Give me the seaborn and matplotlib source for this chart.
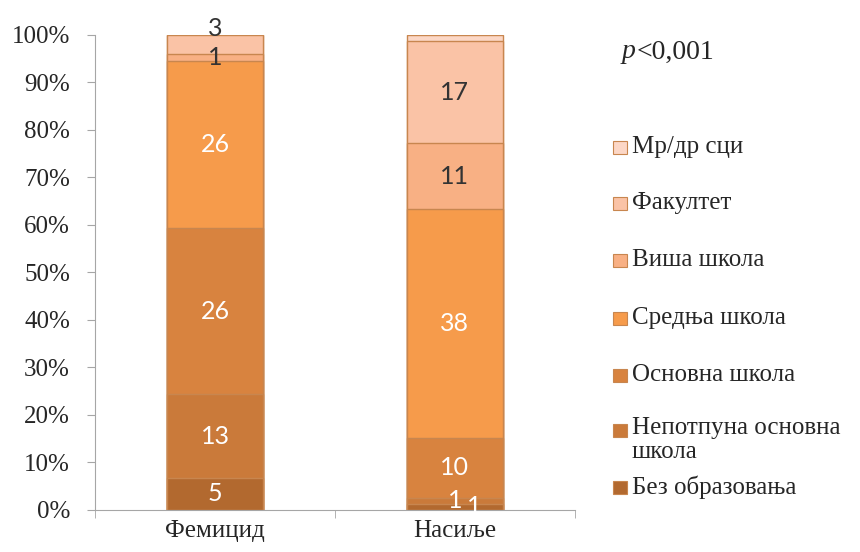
import pandas as pd
import seaborn as sns
import matplotlib.pyplot as plt
from matplotlib.patches import Rectangle

# број испитаника по степену образовања
groups = ["Фемицид", "Насиље"]
levels = ["Без образовања", "Непотпуна основна\nшкола", "Основна школа",
          "Средња школа", "Виша школа", "Факултет", "Мр/др сци"]
femicid = [5, 13, 26, 26, 1, 3, 0]
nasilje = [1, 1, 10, 38, 11, 17, 1]
colors = ["#B2692F", "#CA7A3A", "#D8833F", "#F69B4B", "#F8B084", "#FAC3A6", "#FCD7C6"]
light_labels = [True, True, True, True, False, False, False]

df = pd.DataFrame({"group": groups, **{lv: [f, n] for lv, f, n in zip(levels, femicid, nasilje)}})
counts = df.set_index("group")[levels]
pct = counts.div(counts.sum(axis=1), axis=0) * 100
cum = pct.cumsum(axis=1)

sns.set_style("white")
SERIF = "Liberation Serif"
plt.rcParams["font.family"] = SERIF

fig = plt.figure(figsize=(8.6, 5.52), dpi=100)
ax = fig.add_axes([0.1105, 0.0761, 0.558, 0.8605])

# наслагани стубови: цртамо кумулативне вредности од највеће ка најмањој
for i in reversed(range(len(levels))):
    d = cum[levels[i]].reset_index()
    d.columns = ["group", "value"]
    sns.barplot(data=d, x="group", y="value", order=groups, color=colors[i],
                width=0.4, edgecolor="#C8864F", linewidth=1.0, saturation=1, ax=ax)

# бројеви у сегментима
for gi, g in enumerate(groups):
    for li, lv in enumerate(levels):
        n = counts.loc[g, lv]
        if n == 0 or (g == "Насиље" and lv == "Мр/др сци"):
            continue
        x = gi
        y = cum.loc[g, lv] - pct.loc[g, lv] / 2
        if g == "Фемицид" and lv == "Факултет":
            y += 3.5
        if g == "Насиље" and lv == "Без образовања":
            x += 0.08
        ax.text(x, y, str(n), ha="center", va="center", fontsize=18,
                family="Lato",
                color="white" if light_labels[li] else "#333333")

ax.set_xlim(-0.5, 1.5)
ax.set_ylim(0, 100)
ax.set_yticks(range(0, 101, 10))
ax.set_yticklabels([f"{v}%" for v in range(0, 101, 10)], fontsize=18, family=SERIF)
ax.set_xticks([0, 1])
ax.set_xticklabels(groups, fontsize=18, family=SERIF)
ax.set_xticks([-0.5, 0.5, 1.5], minor=True)
ax.set_xlabel("")
ax.set_ylabel("")
for s in ["top", "right"]:
    ax.spines[s].set_visible(False)
for s in ["left", "bottom"]:
    ax.spines[s].set_color("#A6A6A6")
ax.tick_params(axis="y", left=True, length=6, color="#A6A6A6", pad=12)
ax.tick_params(axis="x", which="major", bottom=False, pad=4)
ax.tick_params(axis="x", which="minor", bottom=True, length=6, color="#A6A6A6")

fig.text(0.723, 1 - 52 / 552, "p", style="italic", fontsize=20, family=SERIF, va="center")
fig.text(0.740, 1 - 52 / 552, "<0,001", fontsize=20, family=SERIF, va="center")

# легенда
leg_y = [147, 203, 260, 318, 375, 430, 487]
for i, lv in enumerate(reversed(levels)):
    c = colors[len(levels) - 1 - i]
    yc = 1 - leg_y[i] / 552
    fig.patches.append(Rectangle((613 / 860, yc - 6.5 / 552), 14 / 860, 13 / 552,
                                 facecolor=c, edgecolor="#C8864F", linewidth=0.8,
                                 transform=fig.transFigure))
    if "\n" in lv:
        fig.text(632 / 860, yc + 13 / 552, lv, fontsize=18, family=SERIF,
                 va="top", linespacing=1.1)
    else:
        fig.text(632 / 860, yc, lv, fontsize=18, family=SERIF, va="center")

fig.savefig("out.png", dpi=100)
